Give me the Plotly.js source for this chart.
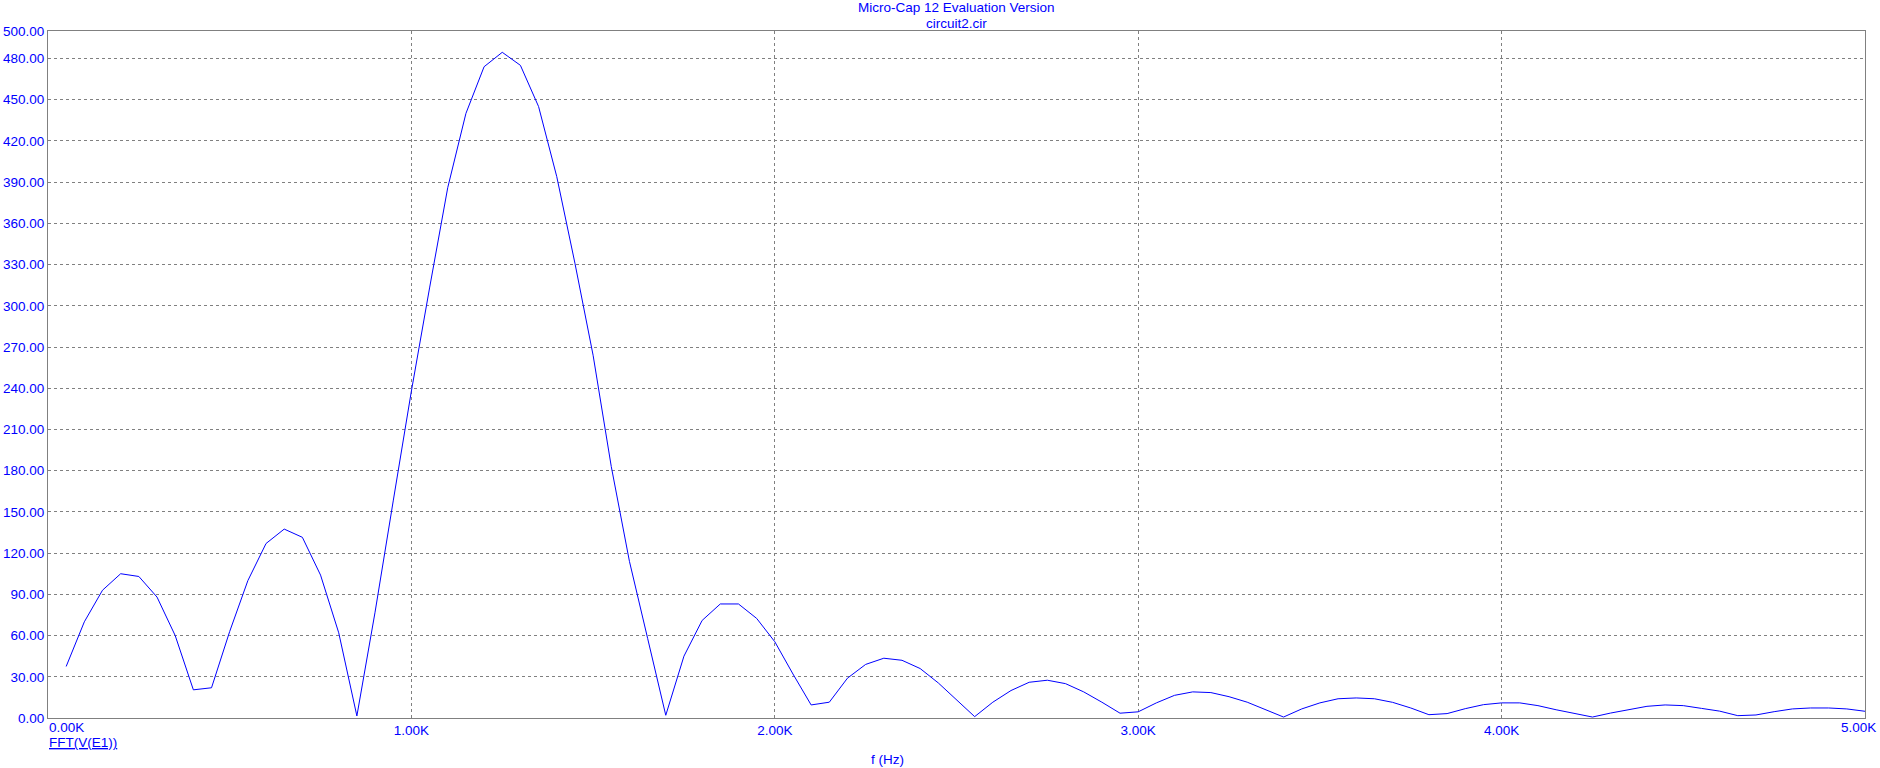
<!DOCTYPE html>
<html>
<head>
<meta charset="utf-8">
<script src="https://cdn.plot.ly/plotly-3.0.1.min.js"></script>
<style>
  html, body { margin: 0; padding: 0; background: #ffffff; }
  #chart { width: 1880px; height: 768px; }
</style>
</head>
<body>
<div id="chart"></div>
<script>
// FFT bin spacing 50 Hz, bins 1..100
const binStepHz = 50;
const magnitude = [
  37.5, 70, 93, 105, 103, 88, 60, 20.5, 22, 63,
  100, 127, 137.5, 131.5, 104, 62, 1.5, 77, 158, 238,
  313, 386, 440, 474, 484.5, 475, 445, 394, 331, 264,
  183, 114, 58, 2, 45, 71, 83, 83, 72.5, 55.5,
  32, 9.5, 11.5, 29, 39, 43.5, 42, 36, 25.5, 13.5,
  1, 11.5, 20, 26, 27.5, 25, 19, 11.5, 3.5, 4.5,
  11, 16.5, 19, 18.5, 15.5, 11.5, 6, 0.7, 6.6, 11,
  14, 14.6, 14, 11.4, 7.3, 2.4, 3.2, 6.8, 9.7, 11,
  11, 9, 6, 3.2, 0.7, 3.6, 6, 8.5, 9.5, 9,
  7, 5, 1.7, 2.2, 4.6, 6.6, 7.3, 7.3, 6.6, 4.9
];
const frequency = magnitude.map((_, i) => (i + 1) * binStepHz);

const xTickVals = [1000, 2000, 3000, 4000];
const xTickText = ["1.00K", "2.00K", "3.00K", "4.00K"];
const xEdgeTicks = [0, 5000];
const xEdgeText = ["0.00K", "5.00K"];
const yTickVals = [0, 30, 60, 90, 120, 150, 180, 210, 240, 270, 300, 330, 360, 390, 420, 450, 480, 500];
const yTickText = yTickVals.map(v => v.toFixed(2));

const titleLine1 = "Micro-Cap 12 Evaluation Version";
const titleLine2 = "circuit2.cir";
const xAxisLabel = "f (Hz)";
const traceLabel = "FFT(V(E1))";

const FONT = 'Arial, "Liberation Sans", sans-serif';
const BLUE = '#0000ff';
const GRID = '#808080';

const trace = {
  x: frequency,
  y: magnitude,
  type: 'scatter',
  mode: 'lines',
  line: { color: BLUE, width: 1 },
  hoverinfo: 'skip'
};

const tickFont = { family: FONT, size: 13.5, color: BLUE };

const annotations = [
  { text: titleLine1, xref: 'paper', yref: 'paper', x: 0.5, y: 1, xanchor: 'center', yanchor: 'middle', yshift: 24, showarrow: false, font: tickFont },
  { text: titleLine2, xref: 'paper', yref: 'paper', x: 0.5, y: 1, xanchor: 'center', yanchor: 'middle', yshift: 8, showarrow: false, font: tickFont },
  { text: xEdgeText[0], xref: 'x', yref: 'paper', x: xEdgeTicks[0], y: 0, xanchor: 'left', yanchor: 'middle', yshift: -9, xshift: -1, showarrow: false, font: tickFont },
  { text: xEdgeText[1], xref: 'x', yref: 'paper', x: xEdgeTicks[1], y: 0, xanchor: 'right', yanchor: 'middle', yshift: -9, xshift: 13, showarrow: false, font: tickFont },
  { text: '<u>' + traceLabel + '</u>', xref: 'x', yref: 'paper', x: 0, y: 0, xanchor: 'left', yanchor: 'middle', yshift: -24, xshift: -1, showarrow: false, font: tickFont },
  { text: xAxisLabel, xref: 'paper', yref: 'paper', x: 0.462, y: 0, xanchor: 'center', yanchor: 'middle', yshift: -41, showarrow: false, font: tickFont }
];

const layout = {
  width: 1880,
  height: 768,
  margin: { l: 48, r: 15, t: 31, b: 50, pad: 0 },
  paper_bgcolor: '#ffffff',
  plot_bgcolor: '#ffffff',
  showlegend: false,
  font: { family: FONT, size: 13.5, color: BLUE },
  xaxis: {
    range: [0, 5000],
    tickmode: 'array',
    tickvals: xTickVals,
    ticktext: xTickText,
    ticks: '',
    showgrid: true,
    gridcolor: GRID,
    gridwidth: 1,
    griddash: '3px,3px',
    zeroline: false,
    showline: true,
    linecolor: GRID,
    linewidth: 1,
    mirror: true,
    tickfont: tickFont,
    fixedrange: true
  },
  yaxis: {
    range: [0, 500],
    tickmode: 'array',
    tickvals: yTickVals,
    ticktext: yTickText,
    ticks: '',
    showgrid: true,
    gridcolor: GRID,
    gridwidth: 1,
    griddash: '3px,3px',
    zeroline: false,
    showline: true,
    linecolor: GRID,
    linewidth: 1,
    mirror: true,
    tickfont: tickFont,
    fixedrange: true
  },
  annotations: annotations
};

Plotly.newPlot('chart', [trace], layout, { displayModeBar: false, staticPlot: true });
</script>
</body>
</html>
